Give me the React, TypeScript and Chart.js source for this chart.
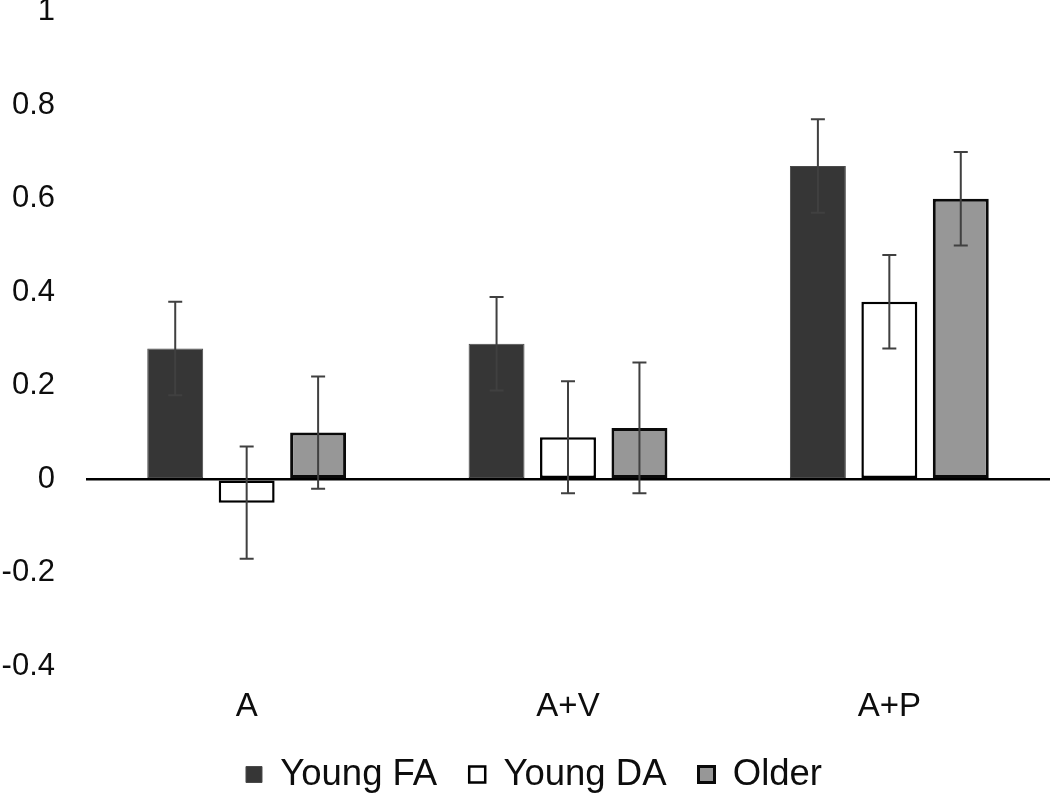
import React, { useEffect, useRef } from "react";
import { Chart, registerables } from "chart.js";

Chart.register(...registerables);

const categories = ["A", "A+V", "A+P"];
const seriesNames = ["Young FA", "Young DA", "Older"];
const youngFA = [0.28, 0.29, 0.67];
const youngDA = [-0.05, 0.09, 0.38];
const older = [0.1, 0.11, 0.6];
const youngFAErr = [0.1, 0.1, 0.1];
const youngDAErr = [0.12, 0.12, 0.1];
const olderErr = [0.12, 0.14, 0.1];
const yTickValues = [-0.4, -0.2, 0, 0.2, 0.4, 0.6, 0.8, 1];
const yTickLabels = ["-0.4", "-0.2", "0", "0.2", "0.4", "0.6", "0.8", "1"];

const FONT = "'Liberation Sans', Arial, sans-serif";

const errorBarPlugin = {
  id: "errorBars",
  afterDatasetsDraw(chart: any) {
    const ctx = chart.ctx;
    const yScale = chart.scales.y;
    chart.data.datasets.forEach((ds: any, di: number) => {
      const meta = chart.getDatasetMeta(di);
      meta.data.forEach((bar: any, i: number) => {
        const v = ds.data[i];
        const e = ds.errors[i];
        const yTop = yScale.getPixelForValue(v + e);
        const yBot = yScale.getPixelForValue(v - e);
        ctx.save();
        ctx.strokeStyle = "#404040";
        ctx.lineWidth = 2;
        ctx.beginPath();
        ctx.moveTo(bar.x, yTop);
        ctx.lineTo(bar.x, yBot);
        ctx.moveTo(bar.x - 7, yTop);
        ctx.lineTo(bar.x + 7, yTop);
        ctx.moveTo(bar.x - 7, yBot);
        ctx.lineTo(bar.x + 7, yBot);
        ctx.stroke();
        ctx.restore();
      });
    });
  },
};

// nudge the legend slightly right so it sits where the reference has it
const legendShiftPlugin = {
  id: "legendShift",
  afterLayout(chart: any) {
    const lg = chart.legend;
    if (lg) {
      lg.left += 9;
      lg.right += 9;
    }
  },
};

export default function App() {
  const canvasRef = useRef<HTMLCanvasElement | null>(null);

  useEffect(() => {
    if (!canvasRef.current) return;
    const chart = new Chart(canvasRef.current, {
      type: "bar",
      data: {
        labels: categories,
        datasets: [
          {
            label: seriesNames[0],
            data: youngFA,
            errors: youngFAErr,
            backgroundColor: "#363636",
            borderColor: "#4a4a4a",
            borderWidth: 1,
            borderSkipped: false,
          } as any,
          {
            label: seriesNames[1],
            data: youngDA,
            errors: youngDAErr,
            backgroundColor: "#ffffff",
            borderColor: "#000000",
            borderWidth: 2.5,
            borderSkipped: false,
          } as any,
          {
            label: seriesNames[2],
            data: older,
            errors: olderErr,
            backgroundColor: "#979797",
            borderColor: "#0a0a0a",
            borderWidth: 3,
            borderSkipped: false,
          } as any,
        ],
      },
      options: {
        responsive: true,
        maintainAspectRatio: false,
        animation: false,
        barPercentage: 0.783,
        categoryPercentage: 0.667,
        layout: { padding: { left: 0, right: 0, top: 11.8, bottom: -9.75 } },
        plugins: {
          legend: {
            position: "bottom",
            labels: {
              font: { family: FONT, size: 36.5 },
              color: "#0d0d0d",
              boxWidth: 16,
              boxHeight: 16,
              padding: 32,
            },
          },
          tooltip: { enabled: false },
        },
        scales: {
          x: {
            grid: { display: false, drawTicks: false },
            border: { display: false },
            ticks: {
              font: { family: FONT, size: 33 },
              color: "#0d0d0d",
              padding: 21,
              maxRotation: 0,
            },
            afterFit: (s: any) => {
              s.height = 57.95;
            },
          },
          y: {
            min: -0.4,
            max: 1,
            afterBuildTicks: (s: any) => {
              s.ticks = yTickValues.map((v) => ({ value: v }));
            },
            afterFit: (s: any) => {
              s.width = 86;
              s.paddingTop = 0;
              s.paddingBottom = 0;
            },
            grid: {
              drawTicks: false,
              color: (c: any) => (c.tick && c.tick.value === 0 ? "#000" : "rgba(0,0,0,0)"),
              lineWidth: (c: any) => (c.tick && c.tick.value === 0 ? 2.5 : 0),
            },
            border: { display: false },
            ticks: {
              font: { family: FONT, size: 31 },
              color: "#0d0d0d",
              padding: 31,
              callback: (_v: any, i: number) => yTickLabels[i],
            },
          },
        },
      } as any,
      plugins: [errorBarPlugin, legendShiftPlugin],
    });
    return () => chart.destroy();
  }, []);

  return (
    <div style={{ position: "fixed", left: 0, top: 0, width: 1050, height: 793, background: "#fff" }}>
      <canvas ref={canvasRef} />
    </div>
  );
}
